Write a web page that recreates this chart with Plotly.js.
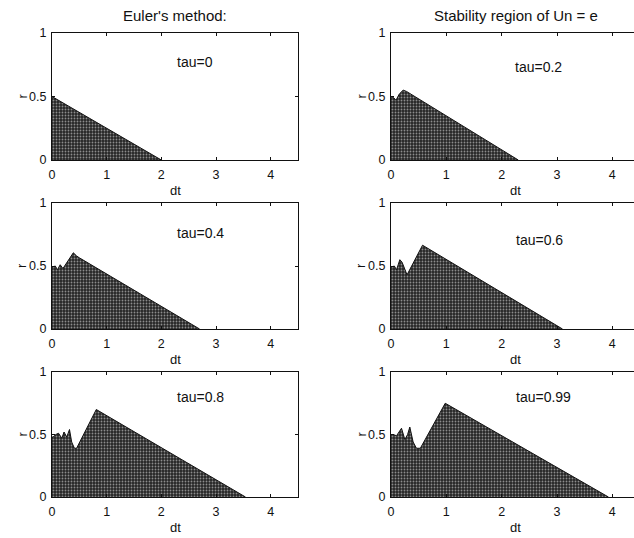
<!DOCTYPE html>
<html>
<head>
<meta charset="utf-8">
<script src="https://cdn.plot.ly/plotly-3.0.1.min.js"></script>
<style>
  html, body { margin: 0; padding: 0; background: #fff; overflow: hidden; }
  #chart { width: 650px; height: 538px; }
</style>
</head>
<body>
<div id="chart"></div>
<script>
// Stability boundary r(dt) for each delay tau (upper edge of the shaded region)
const tauLabels = ['tau=0', 'tau=0.2', 'tau=0.4', 'tau=0.6', 'tau=0.8', 'tau=0.99'];

const dt_0   = [0, 2.0];
const r_0    = [0.5, 0];

const dt_02  = [0, 0.05, 0.09, 0.15, 0.22, 0.28, 2.3];
const r_02   = [0.5, 0.49, 0.47, 0.52, 0.55, 0.54, 0];

const dt_04  = [0, 0.06, 0.1, 0.15, 0.2, 0.27, 0.39, 0.45, 0.5, 2.7];
const r_04   = [0.49, 0.5, 0.47, 0.51, 0.48, 0.53, 0.605, 0.58, 0.565, 0];

const dt_06  = [0, 0.06, 0.1, 0.16, 0.2, 0.25, 0.29, 0.57, 3.1];
const r_06   = [0.49, 0.5, 0.47, 0.55, 0.53, 0.48, 0.43, 0.665, 0];

const dt_08  = [0, 0.02, 0.07, 0.12, 0.18, 0.22, 0.27, 0.32, 0.36, 0.41, 0.45, 0.81, 3.54];
const r_08   = [0.48, 0.48, 0.5, 0.51, 0.47, 0.52, 0.48, 0.54, 0.44, 0.39, 0.39, 0.70, 0];

const dt_099 = [0, 0.04, 0.1, 0.16, 0.19, 0.25, 0.3, 0.34, 0.4, 0.46, 0.53, 0.98, 3.93];
const r_099  = [0.5, 0.5, 0.49, 0.53, 0.55, 0.46, 0.5, 0.56, 0.44, 0.39, 0.39, 0.75, 0];

const seriesDt = [dt_0, dt_02, dt_04, dt_06, dt_08, dt_099];
const seriesR  = [r_0, r_02, r_04, r_06, r_08, r_099];

// label position (dt, r) of each tau caption
const labelDt = [2.25, 2.2, 2.25, 2.22, 2.25, 2.22];
const labelR  = [0.77, 0.73, 0.76, 0.71, 0.80, 0.80];

const xTicks = [0, 1, 2, 3, 4];
const yTicks = [0, 0.5, 1];

// page geometry in pixels
const W = 650, H = 538;
const cols = [[52, 298], [391, 640]];
const rows = [[33, 160], [203, 329], [372, 497]];
const px = p => p / W;
const py = p => 1 - p / H;

const FONT = 'Liberation Sans, Arial, Helvetica, sans-serif';
const INK = '#111';
const traces = [];
const layout = {
  width: W, height: H,
  margin: {l: 0, r: 0, t: 0, b: 0},
  paper_bgcolor: '#fff', plot_bgcolor: '#fff',
  showlegend: false,
  font: {family: FONT, size: 12, color: INK},
  annotations: []
};

for (let i = 0; i < 6; i++) {
  const row = Math.floor(i / 2), col = i % 2;
  const n = i === 0 ? '' : String(i + 1);
  traces.push({
    type: 'scatter', mode: 'lines',
    x: seriesDt[i], y: seriesR[i],
    xaxis: 'x' + n, yaxis: 'y' + n,
    fill: 'tozeroy',
    fillcolor: '#2c2c2c',
    fillpattern: {shape: '.', bgcolor: '#262626', fgcolor: '#8c8c8c', size: 3, solidity: 0.3},
    line: {color: '#111', width: 1},
    hoverinfo: 'skip'
  });
  const common = {
    showgrid: false, zeroline: false,
    showline: true, linecolor: INK, linewidth: 1, mirror: 'ticks',
    ticks: 'inside', ticklen: 3, tickcolor: INK, tickwidth: 1,
    tickfont: {family: FONT, size: 12.5, color: INK},
    fixedrange: true
  };
  layout['xaxis' + n] = Object.assign({}, common, {
    domain: [px(cols[col][0]), px(cols[col][1])],
    anchor: 'y' + n,
    range: [0, 4.5],
    tickvals: xTicks, ticktext: xTicks.map(String),
    ticklabelstandoff: 3
  });
  layout['yaxis' + n] = Object.assign({}, common, {
    domain: [py(rows[row][1]), py(rows[row][0])],
    anchor: 'x' + n,
    range: [0, 1],
    tickvals: yTicks, ticktext: yTicks.map(String),
    ticklabelstandoff: 2
  });
  // tau caption
  layout.annotations.push({
    xref: 'x' + n, yref: 'y' + n, x: labelDt[i], y: labelR[i],
    text: tauLabels[i], showarrow: false, xanchor: 'left', yanchor: 'middle',
    font: {family: FONT, size: 14, color: INK}
  });
  // x axis title
  layout.annotations.push({
    xref: 'paper', yref: 'paper',
    x: px((cols[col][0] + cols[col][1]) / 2), y: py(rows[row][1] + 30),
    text: 'dt', showarrow: false, xanchor: 'center', yanchor: 'middle',
    font: {family: FONT, size: 13, color: INK}
  });
  // y axis title
  layout.annotations.push({
    xref: 'paper', yref: 'paper',
    x: px(cols[col][0] - 30), y: py((rows[row][0] + rows[row][1]) / 2),
    text: 'r', showarrow: false, textangle: -90, xanchor: 'center', yanchor: 'middle',
    font: {family: FONT, size: 13, color: INK}
  });
}

// column headings
layout.annotations.push({
  xref: 'paper', yref: 'paper', x: px(175), y: py(15),
  text: "Euler's method:", showarrow: false, xanchor: 'center', yanchor: 'middle',
  font: {family: FONT, size: 15, color: INK}
});
layout.annotations.push({
  xref: 'paper', yref: 'paper', x: px(516), y: py(15),
  text: 'Stability region of Un = e', showarrow: false, xanchor: 'center', yanchor: 'middle',
  font: {family: FONT, size: 15, color: INK}
});

Plotly.newPlot('chart', traces, layout, {displayModeBar: false, staticPlot: true});
</script>
</body>
</html>
